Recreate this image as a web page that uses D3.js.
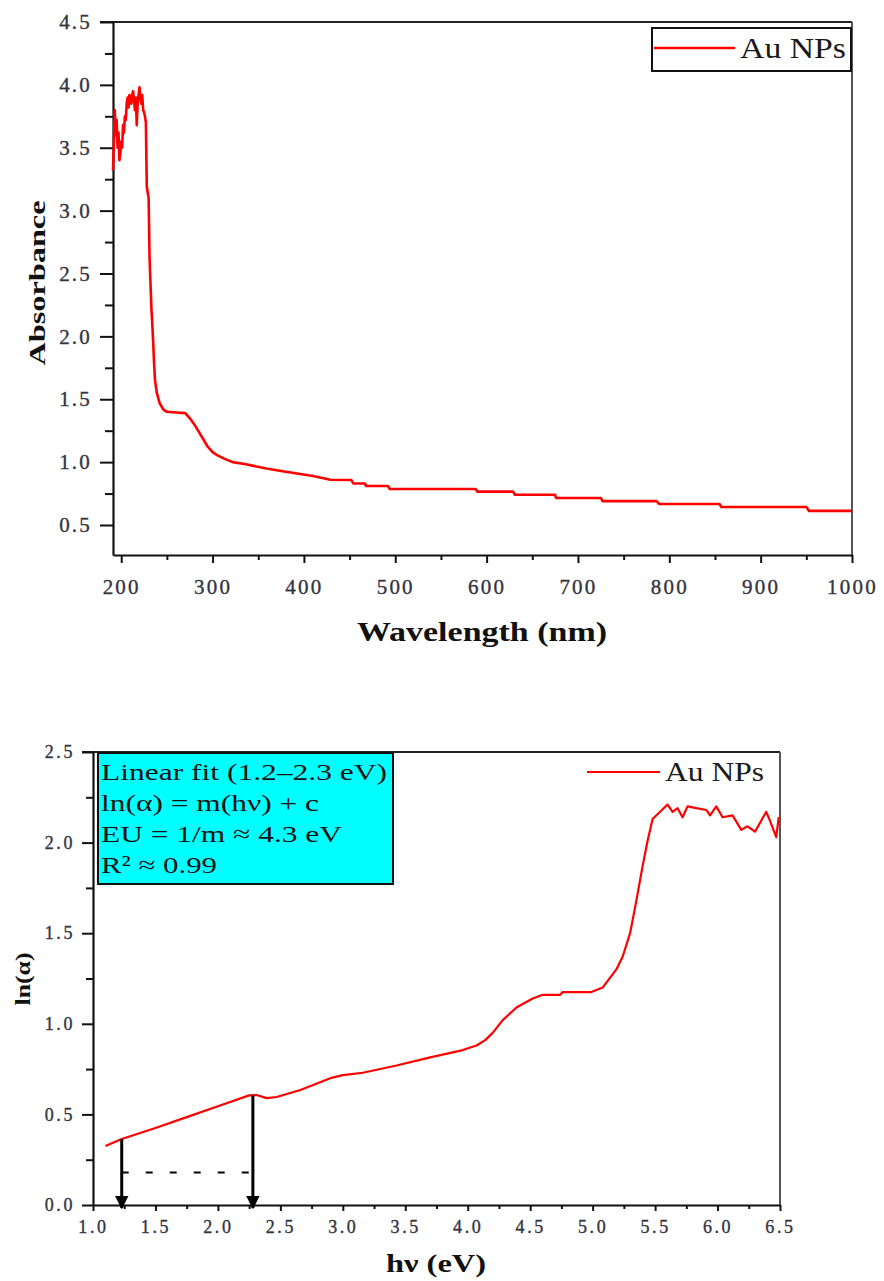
<!DOCTYPE html>
<html><head><meta charset="utf-8">
<script src="https://cdn.jsdelivr.net/npm/d3@7"></script>
<style>body{margin:0;background:#fff} svg{display:block}</style>
</head><body><svg id="c" width="884" height="1281"></svg>
<script>
// ---------- Data: absorbance spectrum ----------
const absWavelength = [191,192,193,194,195,196,197,198,199,200,201,202,203,204,205,206,207,208,209,210,211,212,213,214,215,216,217,218,219,220,221,222,223,224,225,226,227,228,230,231,233,234,235,236,237,239,242,246,250,260,270,275,280,285,290,294,300,305,312,322,335,345,359,375,396,410,429,452,454,467,468,492,494,588,590,629,631,675,676,725,727,786,789,855,857,950,953,1000];
const absValues = [3.32,3.55,3.80,3.60,3.72,3.50,3.62,3.40,3.45,3.55,3.50,3.68,3.62,3.75,3.72,3.85,3.90,3.82,3.92,3.90,3.85,3.92,3.95,3.88,3.80,3.90,3.68,3.85,3.92,3.98,3.90,3.85,3.92,3.80,3.78,3.75,3.70,3.19,3.10,2.63,2.23,2.10,1.95,1.78,1.65,1.55,1.47,1.42,1.40,1.395,1.39,1.35,1.30,1.24,1.18,1.13,1.08,1.055,1.03,1.00,0.985,0.97,0.95,0.93,0.905,0.89,0.86,0.858,0.83,0.83,0.81,0.81,0.786,0.786,0.765,0.765,0.74,0.74,0.715,0.715,0.69,0.69,0.667,0.667,0.643,0.643,0.612,0.612];
const absXTicks = [200,300,400,500,600,700,800,900,1000];
const absXMinor = [250,350,450,550,650,750,850,950];
const absYTicks = [0.5,1.0,1.5,2.0,2.5,3.0,3.5,4.0,4.5];
const absYMinor = [0.75,1.25,1.75,2.25,2.75,3.25,3.75,4.25];

// ---------- Data: ln(alpha) vs photon energy ----------
const lnEnergy = [1.10,1.23,1.5,1.75,2.0,2.25,2.31,2.39,2.47,2.66,2.9,3.0,3.16,3.43,3.70,3.96,4.07,4.14,4.20,4.28,4.39,4.52,4.60,4.74,4.76,4.99,5.08,5.19,5.24,5.30,5.35,5.40,5.44,5.48,5.54,5.60,5.64,5.68,5.72,5.76,5.83,5.91,5.94,5.99,6.04,6.12,6.19,6.24,6.30,6.39,6.42,6.47,6.49];
const lnValues = [0.325,0.364,0.425,0.485,0.545,0.605,0.607,0.59,0.596,0.635,0.70,0.717,0.73,0.77,0.815,0.855,0.88,0.91,0.95,1.02,1.09,1.14,1.16,1.16,1.175,1.175,1.20,1.30,1.37,1.50,1.68,1.87,2.01,2.13,2.17,2.21,2.17,2.19,2.14,2.20,2.19,2.18,2.15,2.20,2.14,2.15,2.07,2.09,2.06,2.17,2.12,2.03,2.14];
const lnXTicks = [1.0,1.5,2.0,2.5,3.0,3.5,4.0,4.5,5.0,5.5,6.0,6.5];
const lnXMinor = [1.25,1.75,2.25,2.75,3.25,3.75,4.25,4.75,5.25,5.75,6.25];
const lnYTicks = [0.0,0.5,1.0,1.5,2.0,2.5];
const lnYMinor = [0.25,0.75,1.25,1.75,2.25];
const arrowEnergies = [1.23, 2.28];
const arrowStarts = [0.364, 0.605];
const dashLevel = 0.18;
const fitLines = ["Linear fit (1.2–2.3 eV)", "ln(α) = m(hν) + c", "EU = 1/m ≈ 4.3 eV", "R² ≈ 0.99"];
const seriesName = "Au NPs";

// layout (not data)
const fitLineWidths = [286, 218, 241, 116];

const FONT = "'Liberation Serif','Times New Roman',serif";
const RED = "#ff0000";
const TICKCOL = "#34343f";
const svg = d3.select("#c");

function styleTickText(sel, o) {
  sel.style("font-family", FONT).style("font-size", o.fs + "px").style("fill", TICKCOL)
    .style("letter-spacing", o.ls + "px").style("stroke", TICKCOL).style("stroke-width", "0.35px");
}

function drawAxes(g, x, y, o) {
  const [x0, x1] = x.range(), [y0, y1] = y.range();
  g.append("line").attr("x1", o.topStart).attr("x2", x1).attr("y1", y1).attr("y2", y1)
    .attr("stroke", "#222").attr("stroke-width", 2);
  g.append("line").attr("x1", x1).attr("x2", x1).attr("y1", y1).attr("y2", y0)
    .attr("stroke", "#555").attr("stroke-width", 2);
  const xa = g.append("g").attr("transform", `translate(0,${y0})`)
    .call(d3.axisBottom(x).tickValues(o.xTicks).tickSize(o.xMaj).tickFormat(o.xFmt).tickSizeOuter(0));
  g.append("g").attr("transform", `translate(0,${y0})`)
    .call(d3.axisBottom(x).tickValues(o.xMinor).tickSize(o.xMin).tickFormat("").tickSizeOuter(0))
    .call(s => s.select(".domain").remove());
  const ya = g.append("g").attr("transform", `translate(${x0},0)`)
    .call(d3.axisLeft(y).tickValues(o.yTicks).tickSize(o.yMaj).tickFormat(o.yFmt).tickSizeOuter(0));
  g.append("g").attr("transform", `translate(${x0},0)`)
    .call(d3.axisLeft(y).tickValues(o.yMinor).tickSize(o.yMin).tickFormat("").tickSizeOuter(0))
    .call(s => s.select(".domain").remove());
  g.selectAll(".domain").attr("stroke", "#111").attr("stroke-width", 2.2);
  g.selectAll(".tick line").attr("stroke", "#111").attr("stroke-width", 2);
  const xt = xa.selectAll("text").attr("y", o.xLabY).attr("dy", "0.35em");
  styleTickText(xt, o);
  const yt = ya.selectAll("text").attr("x", -o.ylabOff);
  styleTickText(yt, o);
}

// ================= TOP CHART =================
{
  const x = d3.scaleLinear().domain([191, 1000]).range([113, 852]);
  const y = d3.scaleLinear().domain([0.2614, 4.5]).range([555, 22]);
  const g = svg.append("g");
  drawAxes(g, x, y, {
    topStart: 100, xTicks: absXTicks, xMinor: absXMinor, yTicks: absYTicks, yMinor: absYMinor,
    xMaj: 8, xMin: 5, yMaj: 13, yMin: 8, xFmt: d3.format("d"), yFmt: d3.format(".1f"),
    fs: 21, ls: 2.2, xLabY: 32, ylabOff: 21
  });
  g.append("path").datum(absWavelength.map((w, i) => [w, absValues[i]]))
    .attr("d", d3.line().x(d => x(d[0])).y(d => y(d[1])))
    .attr("fill", "none").attr("stroke", RED).attr("stroke-width", 2.6).attr("stroke-linejoin", "round");
  // legend
  g.append("rect").attr("x", 652).attr("y", 28).attr("width", 199).attr("height", 43)
    .attr("fill", "#fff").attr("stroke", "#111").attr("stroke-width", 2);
  g.append("line").attr("x1", 654).attr("x2", 735).attr("y1", 48).attr("y2", 48)
    .attr("stroke", RED).attr("stroke-width", 2.6);
  g.append("text").attr("x", 740).attr("y", 58).text(seriesName)
    .attr("font-family", FONT).attr("font-size", 30).attr("fill", "#1a1a1a")
    .attr("textLength", 106).attr("lengthAdjust", "spacingAndGlyphs");
  // labels
  g.append("text").attr("x", 482).attr("y", 641).attr("text-anchor", "middle").text("Wavelength (nm)")
    .attr("font-family", FONT).attr("font-size", 27).attr("font-weight", "bold").attr("fill", "#111")
    .attr("textLength", 250).attr("lengthAdjust", "spacingAndGlyphs");
  g.append("text").attr("transform", "translate(45,283) rotate(-90)").attr("text-anchor", "middle")
    .text("Absorbance").attr("font-family", FONT).attr("font-size", 24).attr("font-weight", "bold")
    .attr("fill", "#111").attr("textLength", 165).attr("lengthAdjust", "spacingAndGlyphs");
}

// ================= BOTTOM CHART =================
{
  const x = d3.scaleLinear().domain([1.0, 6.5]).range([93, 780]);
  const y = d3.scaleLinear().domain([0, 2.5]).range([1205, 752]);
  const g = svg.append("g");
  drawAxes(g, x, y, {
    topStart: 82, xTicks: lnXTicks, xMinor: lnXMinor, yTicks: lnYTicks, yMinor: lnYMinor,
    xMaj: 6, xMin: 4, yMaj: 11, yMin: 7, xFmt: d3.format(".1f"), yFmt: d3.format(".1f"),
    fs: 18, ls: 2.6, xLabY: 22, ylabOff: 18
  });
  g.append("path").datum(lnEnergy.map((e, i) => [e, lnValues[i]]))
    .attr("d", d3.line().x(d => x(d[0])).y(d => y(d[1])))
    .attr("fill", "none").attr("stroke", RED).attr("stroke-width", 2.2).attr("stroke-linejoin", "round");
  // arrows
  svg.append("defs").append("marker").attr("id", "ah").attr("viewBox", "0 0 10 10")
    .attr("refX", 9).attr("refY", 5).attr("markerWidth", 4.6).attr("markerHeight", 4.6)
    .attr("markerUnits", "strokeWidth").attr("orient", "auto")
    .append("path").attr("d", "M0,0 L10,5 L0,10 Z").attr("fill", "#000");
  arrowEnergies.forEach((e, i) => {
    g.append("line").attr("x1", x(e)).attr("x2", x(e)).attr("y1", y(arrowStarts[i])).attr("y2", y(0) + 3)
      .attr("stroke", "#000").attr("stroke-width", 3).attr("marker-end", "url(#ah)");
  });
  g.append("line").attr("x1", x(arrowEnergies[0])).attr("x2", x(arrowEnergies[1]))
    .attr("y1", y(dashLevel)).attr("y2", y(dashLevel))
    .attr("stroke", "#000").attr("stroke-width", 2).attr("stroke-dasharray", "7,17");
  // fit box
  g.append("rect").attr("x", 98).attr("y", 753).attr("width", 295).attr("height", 131)
    .attr("fill", "#00ffff").attr("stroke", "#111").attr("stroke-width", 2);
  fitLines.forEach((t, i) => {
    g.append("text").attr("x", 101).attr("y", 780 + i * 31).text(t)
      .attr("font-family", FONT).attr("font-size", 24).attr("fill", "#111")
      .attr("textLength", fitLineWidths[i]).attr("lengthAdjust", "spacingAndGlyphs");
  });
  // legend (no frame)
  g.append("line").attr("x1", 587).attr("x2", 660).attr("y1", 772).attr("y2", 772)
    .attr("stroke", RED).attr("stroke-width", 2.2);
  g.append("text").attr("x", 665).attr("y", 781).text(seriesName)
    .attr("font-family", FONT).attr("font-size", 27).attr("fill", "#1a1a1a")
    .attr("textLength", 99).attr("lengthAdjust", "spacingAndGlyphs");
  // axis labels
  g.append("text").attr("x", 436).attr("y", 1272).attr("text-anchor", "middle").text("hν (eV)")
    .attr("font-family", FONT).attr("font-size", 25).attr("font-weight", "bold").attr("fill", "#111")
    .attr("textLength", 100).attr("lengthAdjust", "spacingAndGlyphs");
  g.append("text").attr("transform", "translate(30,979) rotate(-90)").attr("text-anchor", "middle")
    .text("ln(α)").attr("font-family", FONT).attr("font-size", 22).attr("font-weight", "bold").attr("fill", "#111")
    .attr("textLength", 53).attr("lengthAdjust", "spacingAndGlyphs");
}
</script></body></html>
